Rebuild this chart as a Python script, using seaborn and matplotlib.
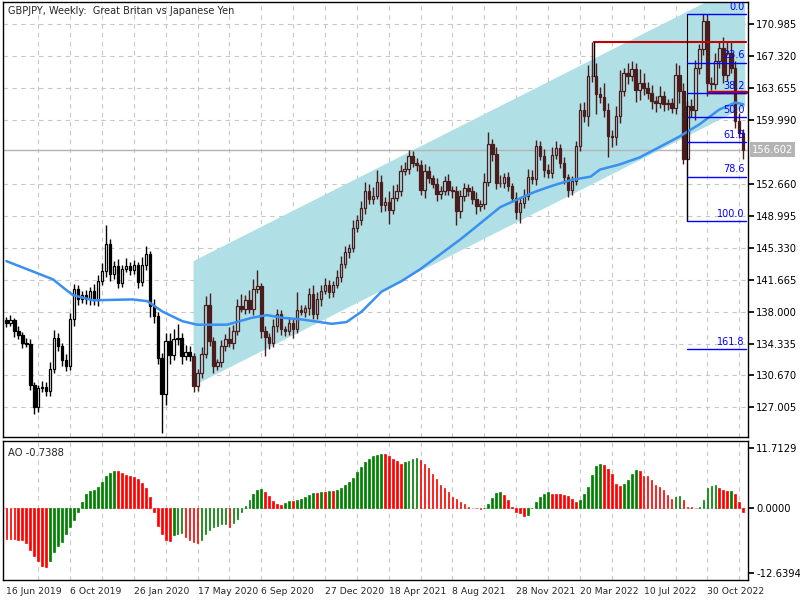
import matplotlib
matplotlib.use("Agg")
import matplotlib.pyplot as plt
import numpy as np
import pandas as pd
import seaborn as sns

# weekly GBPJPY closes (bar 0 = 16 Jun 2019)
closes = [
    136.7, 137.0, 135.8, 135.3, 134.4, 134.3, 129.6, 127.0, 129.2, 129.4,
    128.9, 131.4, 135.0, 134.0, 132.5, 131.8, 137.1, 140.6, 139.4, 139.9,
    139.4, 140.4, 139.3, 141.5, 142.7, 145.8, 142.3, 143.2, 141.3, 142.9,
    143.2, 142.8, 143.3, 141.4, 143.4, 144.6, 138.6, 137.5, 132.7, 128.5,
    134.6, 133.0, 134.8, 135.0, 132.9, 133.4, 132.9, 129.5, 130.9, 133.1,
    138.8, 134.6, 131.8, 132.2, 134.1, 134.9, 134.4, 135.8, 138.6, 138.3,
    139.3, 138.3, 140.6, 140.9, 135.8, 135.1, 134.4, 136.3, 137.7, 136.0,
    135.8, 136.7, 136.0, 138.2, 138.0, 138.4, 140.0, 137.7, 139.4, 140.4,
    141.1, 140.2, 141.1, 142.0, 143.5, 144.8, 145.3, 147.6, 148.5, 149.9,
    151.8, 150.9, 151.3, 152.9, 150.2, 150.6, 149.7, 151.1, 151.9, 154.2,
    154.4, 155.9, 155.1, 154.8, 152.0, 154.1, 153.3, 152.6, 151.5, 151.9,
    153.0, 152.0, 151.9, 149.5, 151.3, 152.2, 151.8, 150.9, 150.1, 150.4,
    152.9, 157.2, 156.1, 152.8, 152.8, 153.4, 152.4, 151.1, 149.4, 150.5,
    151.3, 153.4, 153.2, 157.0, 155.9, 154.3, 153.9, 156.0, 156.8, 155.1,
    153.4, 152.0, 153.0, 157.0, 161.2, 160.5, 165.0, 165.1, 163.0, 162.6,
    161.2, 158.2, 158.0, 160.5, 163.3, 165.4, 165.0, 165.9, 163.5, 164.3,
    163.7, 163.1, 162.2, 162.0, 162.7, 161.8, 161.9, 161.4, 165.2, 163.3,
    155.5, 161.6, 161.2, 166.0, 168.1, 171.4, 164.3, 164.1, 166.8, 168.3,
    165.2, 167.7, 166.0, 159.9, 158.5, 156.6,
]
first_open = 137.0
wick_hi = [
    0.4, 0.6, 0.3, 0.5, 0.4, 0.6, 0.5, 0.3, 0.4, 0.6, 0.5, 0.8, 0.9, 0.5, 0.4, 0.6, 0.7, 0.6, 0.5, 0.5,
    0.6, 0.4, 0.8, 0.7, 0.9, 2.2, 0.5, 0.6, 0.8, 0.4, 1.0, 0.5, 0.6, 0.4, 0.9, 0.9, 0.4, 0.8, 0.5, 0.6,
    1.0, 0.9, 1.2, 1.6, 0.5, 0.8, 0.6, 0.4, 0.5, 0.8, 1.0, 1.3, 0.5, 0.4, 0.6, 0.5, 1.3, 0.7, 0.8, 1.4,
    0.6, 1.2, 1.1, 1.9, 0.4, 0.6, 0.5, 0.8, 0.6, 0.5, 0.4, 0.7, 0.6, 2.0, 0.6, 0.4, 0.7, 1.0, 0.9, 0.6,
    0.8, 0.5, 0.4, 0.8, 0.9, 0.7, 0.5, 0.9, 0.6, 0.8, 1.1, 0.9, 1.0, 1.4, 0.8, 0.6, 1.3, 1.4, 0.8, 0.6,
    0.8, 0.7, 0.5, 0.5, 0.6, 0.9, 0.6, 0.4, 0.7, 0.5, 0.6, 0.8, 0.4, 0.5, 0.7, 0.6, 0.5, 0.6, 0.8, 0.4,
    1.0, 1.4, 0.6, 0.8, 0.9, 0.5, 0.6, 0.4, 0.6, 0.5, 0.8, 1.0, 0.9, 0.7, 0.6, 0.8, 0.6, 0.9, 0.8, 0.5,
    0.6, 0.4, 0.6, 0.6, 0.7, 0.9, 1.3, 3.8, 1.4, 0.8, 1.6, 0.7, 0.6, 1.1, 2.4, 0.6, 1.1, 0.9, 0.6, 1.5,
    1.1, 0.7, 0.9, 0.5, 1.2, 0.6, 0.5, 0.6, 1.4, 1.1, 1.0, 0.6, 0.8, 0.9, 0.6, 0.8, 0.8, 0.6, 0.9, 0.8,
    1.2, 1.2, 1.3, 0.8, 0.9, 0.5,
]
wick_lo = [
    0.5, 0.4, 0.7, 0.5, 0.6, 0.4, 0.6, 0.7, 0.5, 0.4, 0.6, 0.6, 0.4, 0.5, 0.7, 0.6, 0.5, 0.7, 0.6, 0.4,
    0.5, 0.6, 0.5, 0.6, 0.4, 0.7, 0.8, 0.5, 0.6, 0.5, 0.4, 0.6, 0.5, 0.7, 0.5, 0.6, 1.2, 0.8, 0.7, 4.4,
    1.2, 1.0, 0.5, 0.6, 0.9, 0.4, 0.6, 0.7, 0.6, 0.5, 0.4, 0.6, 0.8, 0.5, 0.6, 0.6, 0.5, 0.7, 0.5, 0.4,
    0.6, 0.5, 0.7, 0.5, 0.8, 2.2, 0.7, 0.5, 0.6, 0.7, 0.6, 0.5, 1.0, 0.5, 0.4, 0.6, 0.8, 0.6, 0.5, 0.7,
    0.4, 0.6, 0.5, 0.4, 0.6, 0.5, 0.6, 0.4, 0.5, 0.6, 0.7, 0.5, 0.6, 0.4, 0.8, 0.6, 1.6, 0.5, 0.4, 0.6,
    0.5, 0.6, 0.5, 0.6, 0.6, 0.9, 0.5, 0.4, 0.8, 0.6, 0.5, 0.6, 0.8, 1.5, 0.7, 0.6, 0.5, 0.6, 0.9, 0.5,
    0.6, 0.5, 0.8, 0.7, 0.5, 0.6, 0.6, 0.5, 0.8, 1.2, 0.6, 0.5, 0.6, 0.7, 0.5, 0.8, 0.6, 0.6, 0.5, 0.6,
    0.7, 0.8, 0.6, 0.5, 0.6, 0.7, 1.2, 0.6, 2.3, 0.6, 0.8, 2.4, 1.1, 0.9, 0.8, 0.6, 0.9, 0.5, 1.4, 1.2,
    0.8, 0.7, 0.9, 1.1, 0.6, 0.8, 0.7, 0.6, 0.7, 1.4, 0.5, 7.1, 0.9, 1.2, 0.7, 0.6, 1.5, 0.6, 0.5, 0.8,
    0.9, 0.7, 0.6, 0.8, 0.6, 1.1,
]
# moving average line, read at selected bars
ma_bars = [0, 6.7, 11.7, 14.7, 16.7, 21.7, 31.7, 35.4, 39.2, 44.2, 47.9, 55.4, 61.7, 65.4,
           69.2, 74.2, 81.7, 85.4, 89.2, 94.2, 99.2, 104, 109, 114, 117, 124, 128.4, 132.4,
           136.7, 141.7, 146.7, 149, 154, 159, 164, 169, 174, 179, 183, 185]
ma_vals = [143.8, 142.6, 141.7, 140.6, 139.9, 139.3, 139.4, 139.2, 138.0, 136.9, 136.5,
           136.5, 137.3, 137.6, 137.3, 137.1, 136.6, 136.8, 138.0, 140.3, 141.5, 142.9,
           144.6, 146.3, 147.4, 150.0, 150.9, 151.7, 152.4, 153.1, 153.5, 154.3, 154.9,
           155.7, 156.9, 158.1, 159.5, 161.2, 162.0, 161.8]
# Awesome Oscillator values
ao = [
    -6.0, -6.0, -6.0, -6.1, -6.2, -6.8, -8.1, -9.3, -10.2, -11.3, -11.4, -10.2, -8.5, -7.4,
    -6.6, -5.0, -3.7, -2.3, -0.65, 1.2, 2.8, 3.4, 3.6, 4.1, 5.2, 6.3, 6.8, 7.3, 7.3, 6.8,
    6.5, 6.3, 6.1, 5.7, 5.0, 3.9, 2.1, -0.65, -3.4, -5.0, -6.2, -6.3, -5.2, -5.0, -4.9,
    -5.5, -6.1, -6.5, -6.7, -6.2, -5.0, -4.2, -3.7, -3.4, -3.1, -3.05, -3.6, -2.9, -2.1,
    -0.65, 0.45, 1.6, 2.8, 3.6, 3.7, 3.1, 2.4, 1.5, 0.85, 0.65, 1.1, 1.4, 1.4, 1.6, 1.8,
    2.1, 2.6, 2.9, 2.9, 3.1, 3.1, 3.3, 3.3, 3.5, 3.9, 4.6, 5.2, 5.9, 7.0, 8.1, 9.0, 9.6,
    10.1, 10.4, 10.6, 10.6, 10.1, 9.6, 9.1, 8.7, 8.9, 9.2, 9.6, 9.8, 9.4, 8.7, 7.8, 6.7,
    5.7, 4.6, 3.9, 3.1, 2.1, 1.8, 1.3, 0.85, 0.3, 0.1, 0.02, -0.2, 0.1, 0.8, 2.0, 2.9,
    3.1, 2.6, 1.6, 0.2, -0.65, -1.0, -1.6, -1.3, 0.1, 1.3, 2.1, 2.8, 3.1, 2.8, 2.8, 2.8,
    2.6, 2.4, 1.8, 1.3, 1.6, 2.7, 4.2, 6.4, 8.3, 8.7, 8.5, 7.7, 6.7, 4.8, 4.4, 4.8, 5.5,
    6.7, 7.5, 7.3, 6.3, 6.3, 5.4, 4.6, 4.1, 3.5, 2.6, 1.8, 2.1, 2.3, 1.6, 0.3, 0.2, 0.02,
    0.2, 1.6, 3.9, 4.4, 4.6, 4.0, 3.5, 3.3, 3.4, 2.8, 1.3, -0.7388,
]
price_ticks = [170.985, 167.320, 163.655, 159.990, 152.660, 148.995, 145.330, 141.665,
               138.000, 134.335, 130.670, 127.005]
date_labels = ["16 Jun 2019", "6 Oct 2019", "26 Jan 2020", "17 May 2020", "6 Sep 2020",
               "27 Dec 2020", "18 Apr 2021", "8 Aug 2021", "28 Nov 2021", "20 Mar 2022",
               "10 Jul 2022", "30 Oct 2022"]
fib_levels = [0.0, 23.6, 38.2, 50.0, 61.8, 78.6, 100.0, 161.8]
fib_high, fib_low = 172.2, 148.4
last_price = 156.602

sns.set_theme(style="white")
plt.rcParams["font.family"] = "DejaVu Sans"

df = pd.DataFrame({"close": closes, "hi_w": wick_hi, "lo_w": wick_lo})
df["open"] = df["close"].shift(1).fillna(first_open)
df["top"] = df[["open", "close"]].max(axis=1)
df["bot"] = df[["open", "close"]].min(axis=1)
df["high"] = df["top"] + df["hi_w"]
df["low"] = df["bot"] - df["lo_w"]
df["bull"] = df["close"] >= df["open"]
x = np.arange(len(df))
n = len(df)

fig = plt.figure(figsize=(8, 6), dpi=100)
ax = fig.add_axes([0.004, 0.271, 0.931, 0.725])
ax2 = fig.add_axes([0.004, 0.033, 0.931, 0.232])
xlim = (-0.8, n + 0.2)

# grids
for a in (ax, ax2):
    for gx in range(8, n, 8):
        a.axvline(gx, color="#c8c8c8", lw=0.8, ls=(0, (4, 4)), zorder=0)
for p in price_ticks:
    ax.axhline(p, color="#c8c8c8", lw=0.8, ls=(0, (4, 4)), zorder=0)

# regression channel
c0, c1 = 47, n - 0.5
lo0, lo1 = 129.5, 161.5
width = 14.3
ax.fill([c0, c1, c1, c0], [lo0, lo1, lo1 + width, lo0 + width],
        color="#b0dfe5", lw=0, zorder=1)

ax.axhline(last_price, color="#b4b4b4", lw=1, zorder=1.5)

# candles
in_ch = x >= c0
wick_col = np.where(in_ch, "#4a1c1c", "black")
ax.vlines(x, df["low"], df["high"], colors=wick_col, lw=1, zorder=2)
face = np.where(df["bull"], np.where(in_ch, "#b0dfe5", "white"), wick_col)
ax.bar(x, df["top"] - df["bot"], bottom=df["bot"], width=0.62, color=face,
       edgecolor=wick_col, linewidth=0.9, zorder=3)

sns.lineplot(x=ma_bars, y=ma_vals, ax=ax, color="#3a8ff0", lw=1.8, zorder=4)

# resistance lines
ax.plot([147.5, n - 0.3], [168.9, 168.9], color="#c00000", lw=1.5, zorder=5)
ax.plot([147.5, 147.5], [165.1, 168.9], color="black", lw=1, zorder=5)
ax.plot([176.5, n - 0.3], [163.2, 163.2], color="#c00000", lw=2.5, zorder=5)

# fibonacci levels
fx0 = 170.8
ax.plot([fx0, fx0], [fib_low, fib_high], color="black", lw=0.8, zorder=5)
for lv in fib_levels:
    y = fib_high - (fib_high - fib_low) * lv / 100
    ax.plot([fx0, n - 0.3], [y, y], color="#0000ff", lw=1, zorder=5)
    ax.text(n - 0.6, y + 0.25, f"{lv:.1f}", color="#0000ff", fontsize=7,
            ha="right", va="bottom", zorder=6)

ax.set_xlim(*xlim)
ax.set_ylim(123.56, 173.5)
ax.yaxis.tick_right()
ax.set_yticks(price_ticks)
ax.set_yticklabels([f"{p:.3f}" for p in price_ticks], fontsize=7.2)
ax.set_xticks([])
ax.text(n + 1.2, last_price, f"{last_price:.3f}", fontsize=7.2, color="white",
        va="center", ha="left", bbox=dict(fc="#b4b4b4", ec="none", pad=1.5), clip_on=False)
ax.text(0.006, 0.992, "GBPJPY, Weekly:  Great Britan vs Japanese Yen", transform=ax.transAxes,
        fontsize=7, va="top", ha="left")

# AO histogram
aox = np.arange(len(ao))
ao_arr = np.array(ao)
prev = np.concatenate([[ao_arr[0] + 1], ao_arr[:-1]])
ao_col = np.where(ao_arr > prev, "#008000", "#ff0000")
ax2.axhline(0, color="#c8c8c8", lw=0.8, ls=(0, (4, 4)), zorder=0)
ax2.bar(aox, ao_arr, width=0.42, color=ao_col, edgecolor=ao_col, linewidth=0.5, zorder=2)
ax2.set_xlim(*xlim)
ax2.set_ylim(-14.0, 13.08)
ax2.yaxis.tick_right()
ax2.set_yticks([11.7129, 0.0, -12.6394])
ax2.set_yticklabels(["11.7129", "0.0000", "-12.6394"], fontsize=7.2)
ax2.set_xticks(range(0, 16 * len(date_labels), 16))
ax2.set_xticklabels(date_labels, fontsize=6.7, ha="left")
ax2.tick_params(axis="x", length=4, pad=1)
ax2.text(0.006, 0.95, f"AO {ao[-1]:.4f}", transform=ax2.transAxes, fontsize=7.2,
         va="top", ha="left")

for a in (ax, ax2):
    for s in a.spines.values():
        s.set_color("black")
        s.set_linewidth(1)
    a.tick_params(axis="y", length=4, pad=2, colors="black")

fig.savefig("out.png", dpi=100, facecolor="white")
